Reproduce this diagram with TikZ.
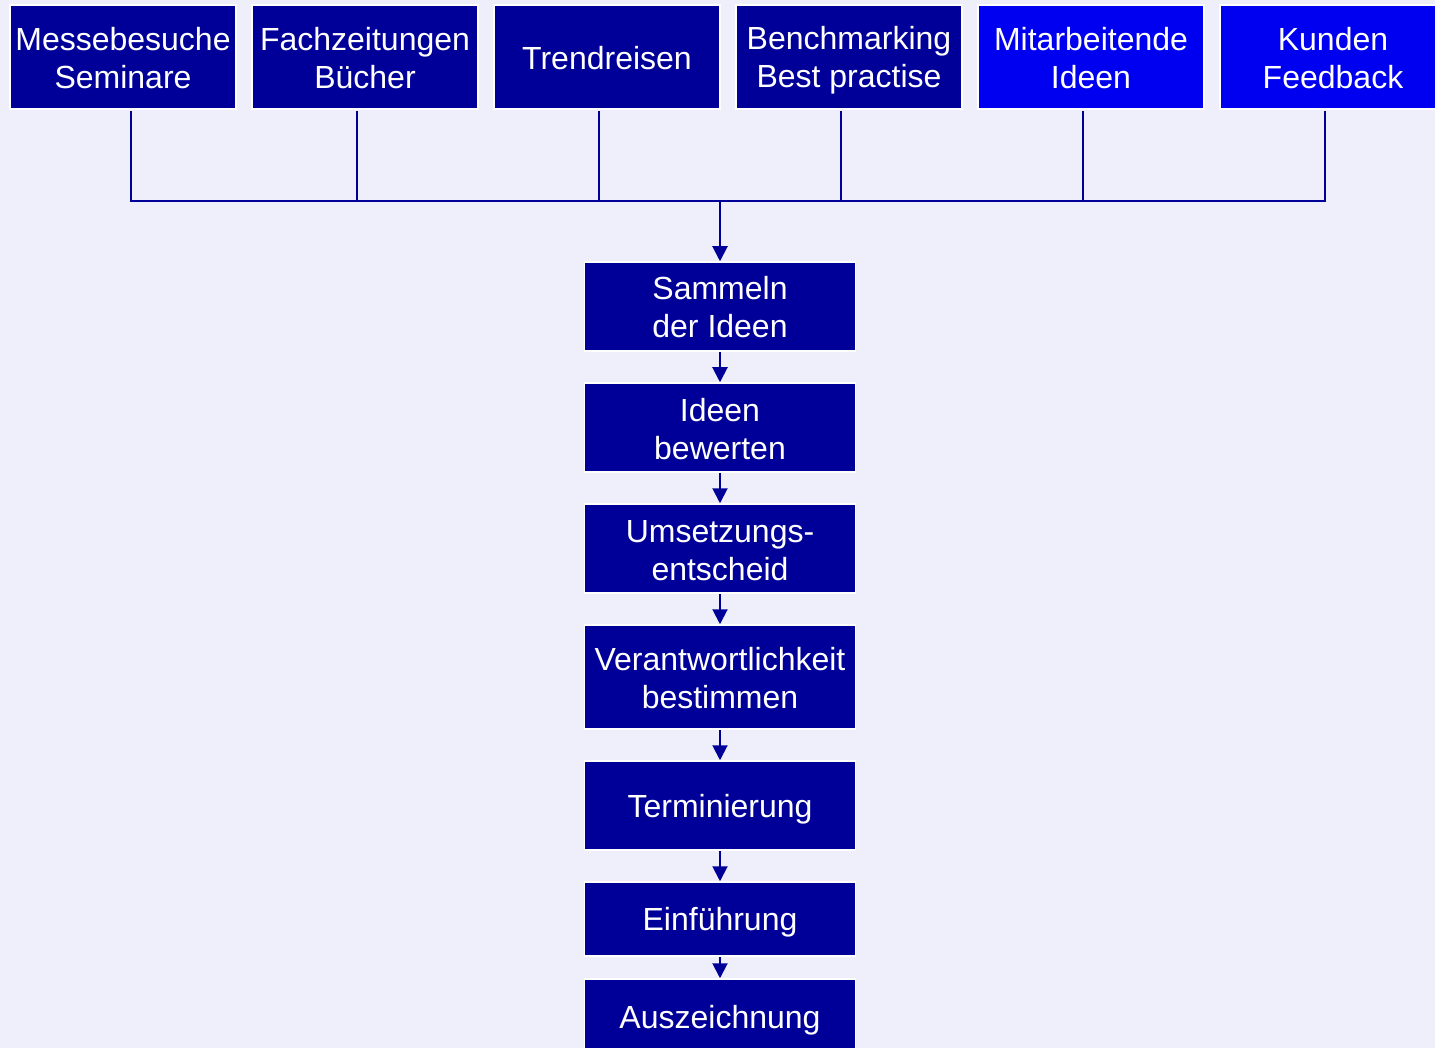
\documentclass[tikz,border=0pt]{standalone}
\usepackage{fontspec}
\setmainfont{Liberation Sans}
\usetikzlibrary{arrows.meta}
\definecolor{bg}{HTML}{EFEFFC}
\definecolor{dblue}{HTML}{000099}
\definecolor{bblue}{HTML}{0000F0}
\newcommand\st{\vrule height30pt depth5pt width0pt}
\begin{document}
\begin{tikzpicture}[x=1pt,y=-1pt,
  basebox/.style={draw=white,line width=1.5pt,fill=dblue,text=white,align=center,inner sep=0pt,font=\fontsize{32}{38}\selectfont},
  topbox/.style={basebox,minimum width=226pt,minimum height=104pt},
  brightbox/.style={topbox,fill=bblue},
  midbox/.style={basebox,minimum width=271pt,minimum height=89pt},
  conn/.style={draw=dblue,line width=2pt},
  arr/.style={conn,-{Triangle[width=15pt,length=15pt]}}]
\useasboundingbox (0,0) rectangle (1435,1048);
\fill[bg] (0,0) rectangle (1435,1048);
\clip (0,0) rectangle (1435,1048);
% top sources
\node[topbox] (t1) at (123,57) {\st Messebesuche\\\st Seminare};
\node[topbox] (t2) at (365,57) {\st Fachzeitungen\\\st Bücher};
\node[topbox] (t3) at (607,57) {\st Trendreisen};
\node[topbox] (t4) at (849,57) {\st Benchmarking\\\st Best practise};
\node[brightbox] (t5) at (1091,57) {\st Mitarbeitende\\\st Ideen};
\node[brightbox] (t6) at (1333,57) {\st Kunden\\\st Feedback};
% process chain
\node[midbox] (m1) at (720,306.5) {\st Sammeln\\\st der Ideen};
\node[midbox] (m2) at (720,427.5) {\st Ideen\\\st bewerten};
\node[midbox] (m3) at (720,548.5) {\st Umsetzungs-\\\st entscheid};
\node[midbox,minimum height=104pt] (m4) at (720,677) {\st Verantwortlichkeit\\\st bestimmen};
\node[midbox] (m5) at (720,805.5) {\st Terminierung};
\node[midbox,minimum height=74pt] (m6) at (720,919) {\st Einführung};
\node[midbox,minimum height=76pt] (m7) at (720,1017) {\st Auszeichnung};
% collector
\coordinate (hub) at (720,201);
\draw[conn] ([xshift=8pt,yshift=-1pt]t1.south) |- (hub);
\foreach \t in {t2,t3,t4,t5,t6}
  \draw[conn] ([xshift=-8pt,yshift=-1pt]\t.south) |- (hub);
\draw[arr] (hub) -- (m1.north);
\draw[arr] (m1.south) -- (m2.north);
\draw[arr] (m2.south) -- (m3.north);
\draw[arr] (m3.south) -- (m4.north);
\draw[arr] (m4.south) -- (m5.north);
\draw[arr] (m5.south) -- (m6.north);
\draw[arr] (m6.south) -- (m7.north);
\end{tikzpicture}
\end{document}
